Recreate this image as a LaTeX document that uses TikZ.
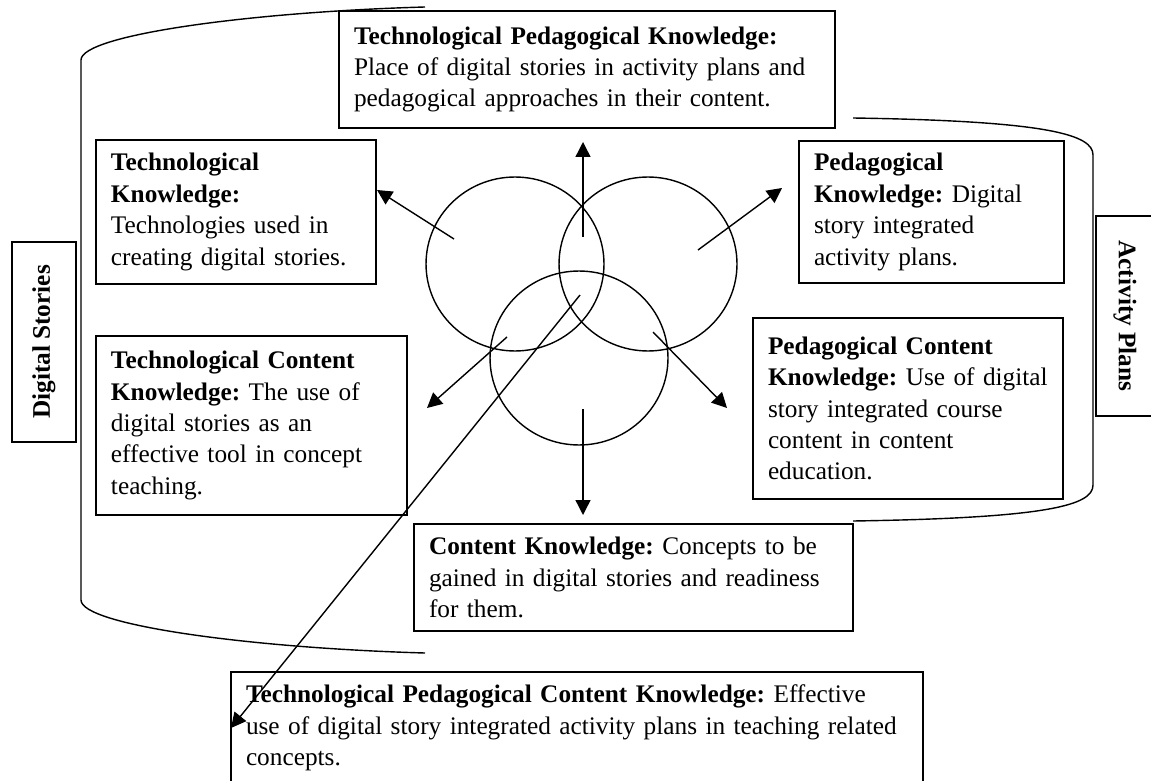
\documentclass[tikz,border=0pt]{standalone}
\usepackage{fontspec}
\setmainfont{Liberation Serif}
\frenchspacing
\usetikzlibrary{arrows.meta, positioning, shapes.geometric}
\tikzset{
    every picture/.style={line width=0.8pt}, % lines of the whole figure
    box/.style={draw, rectangle, align=left, anchor=north west, inner xsep=0.3cm, inner ysep=2pt, outer sep=0pt, font=\fontsize{14.4}{17.9}\selectfont}, % the text boxes
    side/.style={draw, rectangle, inner sep=0pt, font=\fontsize{14.4}{17.9}\selectfont\bfseries}, % the two labels at the sides
    ring/.style={draw, ellipse, minimum width=3.56cm, minimum height=3.48cm, inner sep=0pt}, % the three circles
}
\tikzstyle{arrow} = [-{Triangle[length=0.3cm,width=0.3cm]}]

\begin{document}
\begin{tikzpicture}[x=0.02cm, y=-0.02cm]
    \useasboundingbox (0,0) rectangle (1151,780);

    % the two brackets
    \draw (425,7) .. controls (250,12) and (81,35) .. (81,60) -- (81,600) .. controls (81,625) and (250,648) .. (425,653);
    \draw (853,118) .. controls (1050,121) and (1093,135) .. (1093,155) -- (1093,485) .. controls (1093,505) and (1050,518) .. (853,521);

    % labels at the sides
    \node[side, rotate=90, minimum width=4cm, minimum height=1.28cm] (ds) at (44,342) {Digital Stories};
    \node[side, rotate=-90, minimum width=4cm, minimum height=1.16cm] (ap) at (1125,316) {Activity Plans};

    % the boxes
    \node[box, text width=9.32cm, minimum height=2.34cm, inner xsep=0.3cm] (tpk) at (339,11) {\textbf{Technological Pedagogical Knowledge:}\\ Place of digital stories in activity plans and\\ pedagogical approaches in their content.};
    \node[box, text width=5.0cm, minimum height=2.88cm] (tk) at (96,140) {\textbf{Technological}\\ \textbf{Knowledge:}\\ Technologies used in\\ creating digital stories.};
    \node[box, text width=4.7cm, minimum height=2.84cm] (pk) at (799,141) {\textbf{Pedagogical}\\ \textbf{Knowledge:} Digital\\ story integrated\\ activity plans.};
    \node[box, text width=5.62cm, minimum height=3.58cm] (tck) at (96,336) {\textbf{Technological Content}\\ \textbf{Knowledge:} The use of\\ digital stories as an\\ effective tool in concept\\ teaching.};
    \node[box, text width=5.6cm, minimum height=3.62cm] (pck) at (753,318) {\textbf{Pedagogical Content}\\ \textbf{Knowledge:} Use of digital\\ story integrated course\\ content in content\\ education.};
    \node[box, text width=8.18cm, minimum height=2.14cm] (ck) at (414,524) {\textbf{Content Knowledge:} Concepts to be\\ gained in digital stories and readiness\\ for them.};
    \node[box, text width=13.24cm, minimum height=2.24cm] (tpck) at (231,672) {\textbf{Technological Pedagogical Content Knowledge:} Effective\\ use of digital story integrated activity plans in teaching related\\ concepts.};

    % the three circles
    \node[ring] (tring) at (515,264) {};
    \node[ring] (pring) at (648,264) {};
    \node[ring] (cring) at (579,358) {};

    % ends of the arrows
    \coordinate (tpks) at (583,237);  \coordinate (tpke) at (583,142);
    \coordinate (tks) at (454,239);   \coordinate (tke) at (377,190);
    \coordinate (pks) at (698,250);   \coordinate (pke) at (782,188);
    \coordinate (tcks) at (507,337);  \coordinate (tcke) at (427,408);
    \coordinate (pcks) at (653,332);  \coordinate (pcke) at (727,408);
    \coordinate (cks) at (583,409);   \coordinate (cke) at (583,515);
    \coordinate (tpcks) at (580,295);

    \draw[arrow] (tpks) -- (tpke);
    \draw[arrow] (tks) -- (tke);
    \draw[arrow] (pks) -- (pke);
    \draw[arrow] (tcks) -- (tcke);
    \draw[arrow] (pcks) -- (pcke);
    \draw[arrow] (cks) -- (cke);
    \draw[arrow] (tpcks) -- (tpck.west);
\end{tikzpicture}
\end{document}
